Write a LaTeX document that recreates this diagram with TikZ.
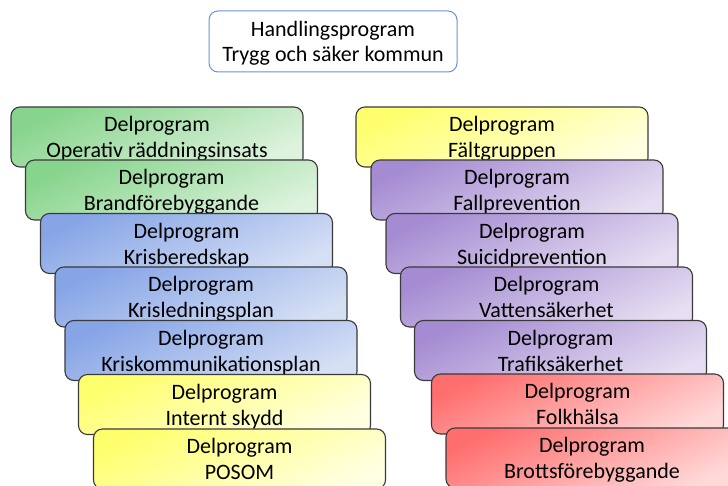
\documentclass[tikz,border=0pt]{standalone}
\usepackage{fontspec}
\setmainfont{Carlito}
\definecolor{grontop}{RGB}{135,212,140}
\definecolor{gronbot}{RGB}{222,243,222}
\definecolor{blatop}{RGB}{135,165,230}
\definecolor{blabot}{RGB}{214,224,245}
\definecolor{gultop}{RGB}{255,255,110}
\definecolor{gulbot}{RGB}{255,255,226}
\definecolor{lilatop}{RGB}{165,140,210}
\definecolor{lilabot}{RGB}{230,222,242}
\definecolor{rodtop}{RGB}{255,110,110}
\definecolor{rodbot}{RGB}{255,216,216}
\definecolor{ramgra}{RGB}{58,58,58}
\definecolor{titelram}{RGB}{110,145,215}
\begin{document}
\begin{tikzpicture}[x=1pt,y=-1pt,
    delbox/.style={draw=ramgra,line width=1.1pt,rounded corners=9pt,
        minimum width=292pt,minimum height=60pt,align=center,inner sep=0pt,
        text depth=0pt,font=\fontsize{22}{26}\selectfont},
    gron/.style={delbox,top color=grontop,bottom color=gronbot,shading angle=25},
    bla/.style={delbox,top color=blatop,bottom color=blabot,shading angle=25},
    gul/.style={delbox,top color=gultop,bottom color=gulbot,shading angle=25},
    lila/.style={delbox,top color=lilatop,bottom color=lilabot,shading angle=25},
    rod/.style={delbox,top color=rodtop,bottom color=rodbot,shading angle=25}]
        \useasboundingbox (0,0) rectangle (728,486);

        % huvudprogram
        \node[draw=titelram,line width=1pt,rounded corners=9pt,fill=white,
            minimum width=248pt,minimum height=61pt,align=center,inner sep=0pt,
            text depth=0pt,font=\fontsize{22}{25}\selectfont] (handling) at (333,41.5)
            {Handlingsprogram\\Trygg och säker kommun};

        % vänster kolumn
        \node[gron] (operativ) at (157,137) {Delprogram\\Operativ räddningsinsats};
        \node[gron] (brand) at (171.5,190) {Delprogram\\Brandförebyggande};
        \node[bla] (krisber) at (186.5,243.5) {Delprogram\\Krisberedskap};
        \node[bla] (krisled) at (201,297) {Delprogram\\Krisledningsplan};
        \node[bla] (kriskom) at (211,350.5) {Delprogram\\Kriskommunikationsplan};
        \node[gul] (internt) at (224.5,404.5) {Delprogram\\Internt skydd};
        \node[gul] (posom) at (239.5,459) {Delprogram\\POSOM};

        % höger kolumn
        \node[gul] (falt) at (502,137) {Delprogram\\Fältgruppen};
        \node[lila] (fall) at (517,190) {Delprogram\\Fallprevention};
        \node[lila] (suicid) at (532,243.5) {Delprogram\\Suicidprevention};
        \node[lila] (vatten) at (546.5,297) {Delprogram\\Vattensäkerhet};
        \node[lila] (trafik) at (560.5,350.5) {Delprogram\\Trafiksäkerhet};
        \node[rod] (folk) at (577.5,404) {Delprogram\\Folkhälsa};
        \node[rod] (brott) at (592,458) {Delprogram\\Brottsförebyggande};
\end{tikzpicture}
\end{document}
